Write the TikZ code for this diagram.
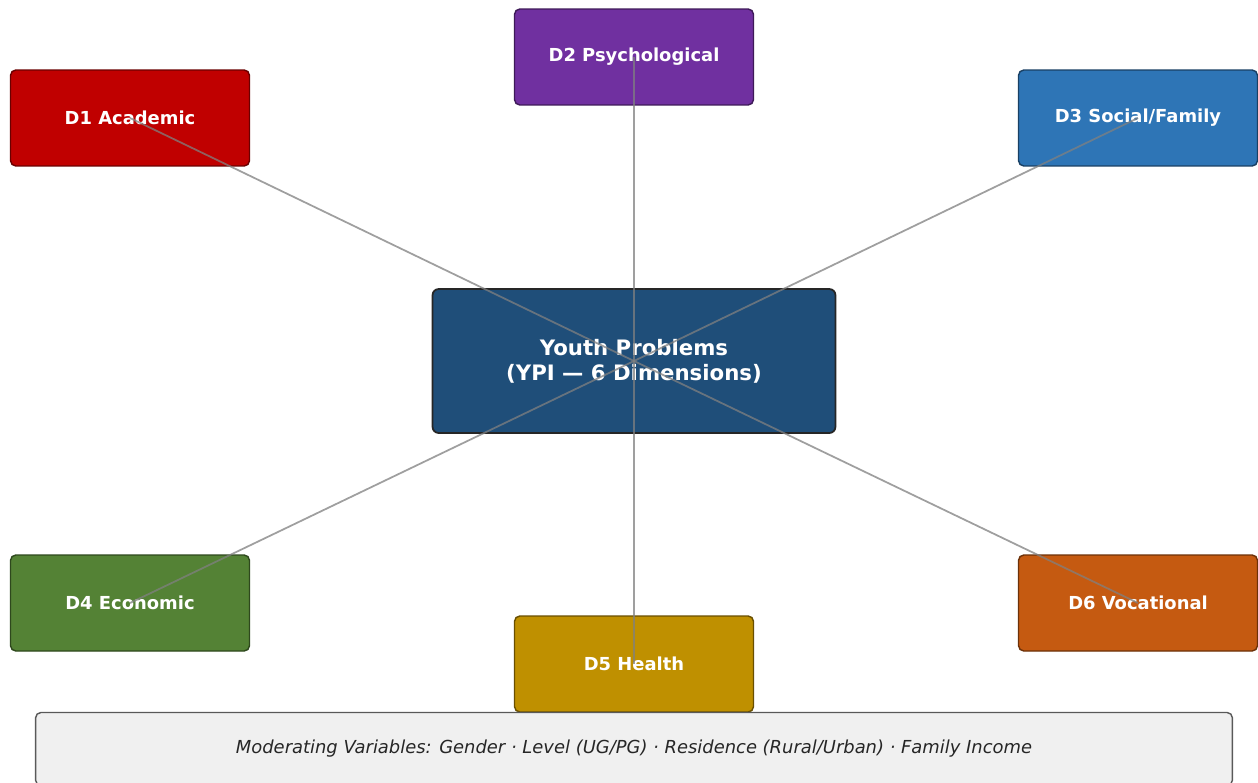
\documentclass[tikz,border=0pt]{standalone}
\usepackage{fontspec}
\setmainfont{DejaVu Sans}
\usepackage{xcolor}
\usepackage{tikz}
\usetikzlibrary{positioning}

\definecolor{acadred}{HTML}{C00000}
\definecolor{psypurple}{HTML}{7030A0}
\definecolor{socblue}{HTML}{2E75B6}
\definecolor{hubblue}{HTML}{1F4E79}
\definecolor{ecogreen}{HTML}{548235}
\definecolor{healthgold}{HTML}{BF9000}
\definecolor{vocorange}{HTML}{C55A11}

\tikzset{
  dimbox/.style={draw=#1!55!black, fill=#1, line width=0.8pt, rounded corners=3pt,
    minimum width=4.78cm, minimum height=1.92cm, text=white,
    font=\fontsize{10.2}{12}\selectfont\bfseries, align=center},
  hubbox/.style={draw=black!85, fill=hubblue, line width=1pt, rounded corners=3.5pt,
    minimum width=8.06cm, minimum height=2.88cm, text=white,
    font=\fontsize{12.1}{14.2}\selectfont\bfseries, align=center},
  modbox/.style={draw=black!65, fill=black!6, line width=0.8pt, rounded corners=3pt,
    minimum width=23.94cm, minimum height=1.46cm,
    font=\fontsize{10.2}{12}\selectfont\itshape, text=black!85},
  spoke/.style={draw=gray, line width=1pt, opacity=0.75}
}

\begin{document}
\begin{tikzpicture}[x=0.02cm, y=-0.02cm]
  \useasboundingbox[fill=white] (0,0) rectangle (1258,782); % same size as the reference
  \node[hubbox] (hub) at (634,361) {Youth Problems\\(YPI — 6 Dimensions)};
  \node[dimbox=acadred] (d1) at (130,118) {D1 Academic};
  \node[dimbox=psypurple] (d2) at (634,57) {D2 Psychological};
  \node[dimbox=socblue] (d3) at (1138,118) {D3 Social/Family};
  \node[dimbox=ecogreen] (d4) at (130,603) {D4 Economic};
  \node[dimbox=healthgold] (d5) at (634,664) {D5 Health};
  \node[dimbox=vocorange] (d6) at (1138,603) {D6 Vocational};
  \node[modbox] (mod) at (634,749) {Moderating Variables: Gender · Level (UG/PG) · Residence (Rural/Urban) · Family Income};
  % spokes lie over the boxes
  \foreach \d in {d1,d2,d3,d4,d5,d6}
    \draw[spoke] (hub.center) -- (\d.center);
\end{tikzpicture}
\end{document}
